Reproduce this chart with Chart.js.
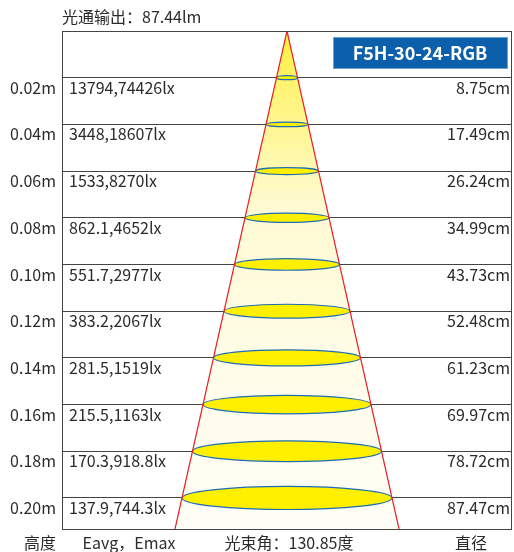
<!DOCTYPE html>
<html>
<head>
<meta charset="utf-8">
<script src="https://cdn.jsdelivr.net/npm/chart.js@4/dist/chart.umd.min.js"></script>
<style>
  body { margin: 0; background: #fff; }
  #wrap { width: 514px; height: 552px; position: relative; }
</style>
</head>
<body>
<div id="wrap"><canvas id="beam"></canvas></div>
<script>
// values
const heights = [0.02, 0.04, 0.06, 0.08, 0.10, 0.12, 0.14, 0.16, 0.18, 0.20];
const eavg = [13794, 3448, 1533, 862.1, 551.7, 383.2, 281.5, 215.5, 170.3, 137.9];
const emax = [74426, 18607, 8270, 4652, 2977, 2067, 1519, 1163, 918.8, 744.3];
const diameters = [8.75, 17.49, 26.24, 34.99, 43.73, 52.48, 61.23, 69.97, 78.72, 87.47];
const fluxText = "光通输出：87.44lm";
const angleText = "光束角：130.85度";
const modelName = "F5H-30-24-RGB";

const yMax = 0.2133;
const xHalf = 93.7;
// cone edge follows the diameters, extended down to the frame bottom
const slope = diameters[diameters.length - 1] / 2 / heights[heights.length - 1];
const rBottom = slope * yMax;
const conePts = [{x: -rBottom, y: yMax}, {x: 0, y: 0}, {x: rBottom, y: yMax}];

const font = "'Noto Sans CJK SC', 'Noto Sans', sans-serif";
const ink = "#2b2b2b";

const beamPlugin = {
  id: "beam",
  beforeDatasetDraw(chart, args) {
    if (args.index !== 1) return;
    const ctx = chart.ctx, xs = chart.scales.x, ys = chart.scales.y;
    const cx = xs.getPixelForValue(0);
    ctx.save();
    heights.forEach((h, i) => {
      const cy = ys.getPixelForValue(h);
      const rx = xs.getPixelForValue(diameters[i] / 2) - cx;
      const ry = Math.max(rx * 0.11, 2);
      ctx.beginPath();
      ctx.ellipse(cx, cy, rx, ry, 0, 0, Math.PI * 2);
      ctx.fillStyle = "#fff000";
      ctx.fill();
      ctx.lineWidth = 1.2;
      ctx.strokeStyle = "#1d6db3";
      ctx.stroke();
    });
    ctx.restore();
  },
  afterDraw(chart) {
    const ctx = chart.ctx, a = chart.chartArea, ys = chart.scales.y;
    ctx.save();
    // frame
    ctx.strokeStyle = "#444";
    ctx.lineWidth = 1;
    ctx.strokeRect(a.left + 0.5, a.top + 0.5, a.right - a.left - 1, a.bottom - a.top);

    ctx.fillStyle = ink;
    ctx.font = "16px " + font;
    ctx.textBaseline = "middle";
    heights.forEach((h, i) => {
      const y = ys.getPixelForValue(h) + 10;
      ctx.textAlign = "left";
      ctx.fillText(eavg[i] + "," + emax[i] + "lx", a.left + 7, y);
      ctx.textAlign = "right";
      ctx.fillText(diameters[i].toFixed(2) + "cm", a.right - 2, y);
    });

    // title and footer
    ctx.font = "16px " + font;
    ctx.textAlign = "left";
    ctx.fillText(fluxText, 62, 17);
    ctx.textAlign = "center";
    ctx.fillText("高度", 40, 543);
    ctx.fillText("Eavg，Emax", 129, 543);
    ctx.fillText(angleText, 289, 543);
    ctx.fillText("直径", 471, 543);

    // model tag
    ctx.fillStyle = "#0b5fab";
    ctx.fillRect(333, 37, 175, 32);
    ctx.strokeStyle = "#6ea3d6";
    ctx.strokeRect(333.5, 37.5, 174, 31);
    ctx.fillStyle = "#fff";
    ctx.font = "bold 18px " + font;
    ctx.textAlign = "center";
    ctx.fillText(modelName, 420, 53);
    ctx.restore();
  }
};

new Chart(document.getElementById("beam"), {
  type: "scatter",
  data: {
    datasets: [
      {
        data: conePts,
        showLine: true,
        pointRadius: 0,
        borderWidth: 0,
        borderColor: "rgba(0,0,0,0)",
        fill: {value: yMax},
        order: 2,
        backgroundColor: (c) => {
          const a = c.chart.chartArea;
          if (!a) return "#fffbe0";
          const g = c.chart.ctx.createLinearGradient(0, a.top, 0, a.bottom);
          g.addColorStop(0, "#fff03a");
          g.addColorStop(0.12, "#fff476");
          g.addColorStop(0.35, "#fffad2");
          g.addColorStop(0.7, "#fffcea");
          g.addColorStop(1, "#fffef6");
          return g;
        }
      },
      {
        data: conePts,
        showLine: true,
        pointRadius: 0,
        borderWidth: 1.2,
        borderColor: "#e8202a",
        fill: false,
        order: 1
      }
    ]
  },
  options: {
    responsive: true,
    maintainAspectRatio: false,
    animation: false,
    layout: {padding: {left: 0, right: 2, top: 31, bottom: 23}},
    plugins: {legend: {display: false}, tooltip: {enabled: false}},
    scales: {
      x: {type: "linear", display: false, min: -xHalf, max: xHalf},
      y: {
        type: "linear",
        reverse: true,
        min: 0,
        max: yMax,
        afterBuildTicks: (s) => { s.ticks = heights.map(v => ({value: v})); },
        afterFit: (s) => { s.width = 62; },
        grid: {color: "#444", lineWidth: 1, drawTicks: false},
        border: {display: true, color: "#444"},
        ticks: {
          padding: 6,
          labelOffset: 10,
          color: ink,
          font: {size: 16, family: font},
          callback: (v) => v.toFixed(2) + "m"
        }
      }
    }
  },
  plugins: [beamPlugin]
});
</script>
</body>
</html>
